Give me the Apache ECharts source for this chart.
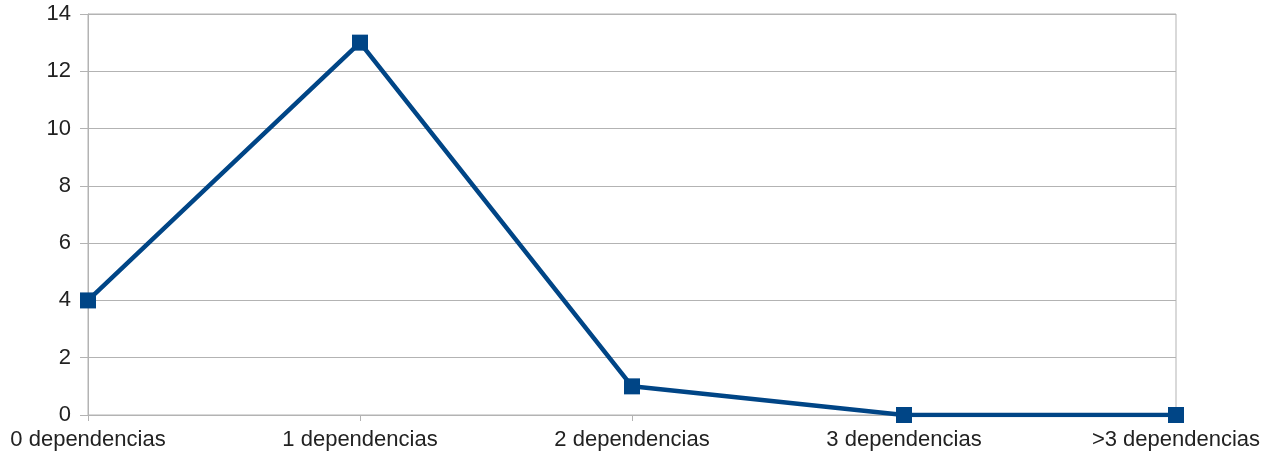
<!DOCTYPE html>
<html><head><meta charset="utf-8">
<script src="https://cdn.jsdelivr.net/npm/echarts@6/dist/echarts.min.js"></script>
<style>html,body{margin:0;padding:0;background:#fff}#c{width:1270px;height:454px}</style>
</head><body><div id="c"></div>
<script>
const categories = ['0 dependencias', '1 dependencias', '2 dependencias', '3 dependencias', '>3 dependencias'];
const values = [4, 13, 1, 0, 0];
const chart = echarts.init(document.getElementById('c'), null, {renderer: 'canvas'});
chart.setOption({
  animation: false,
  backgroundColor: '#ffffff',
  grid: {left: 88, right: 94, top: 14, bottom: 39, show: true, borderColor: '#b3b3b3', borderWidth: 1, backgroundColor: 'transparent'},
  xAxis: {
    type: 'category', data: categories, boundaryGap: false,
    axisLine: {lineStyle: {color: '#b3b3b3', width: 1}},
    axisTick: {show: true, length: 6, lineStyle: {color: '#b3b3b3'}},
    axisLabel: {color: '#222', fontFamily: 'Liberation Sans', fontSize: 22, margin: 14, interval: 0},
    splitLine: {show: false}
  },
  yAxis: {
    type: 'value', min: 0, max: 14, interval: 2,
    axisLine: {show: true, lineStyle: {color: '#b3b3b3', width: 1}},
    axisTick: {show: true, length: 8, lineStyle: {color: '#b3b3b3'}},
    axisLabel: {color: '#222', fontFamily: 'Liberation Sans', fontSize: 22, margin: 17},
    splitLine: {show: true, lineStyle: {color: '#b3b3b3', width: 1}}
  },
  series: [{
    type: 'line', data: values,
    symbol: 'rect', symbolSize: 16,
    lineStyle: {color: '#004586', width: 4.5},
    itemStyle: {color: '#004586'}
  }]
});
</script></body></html>
